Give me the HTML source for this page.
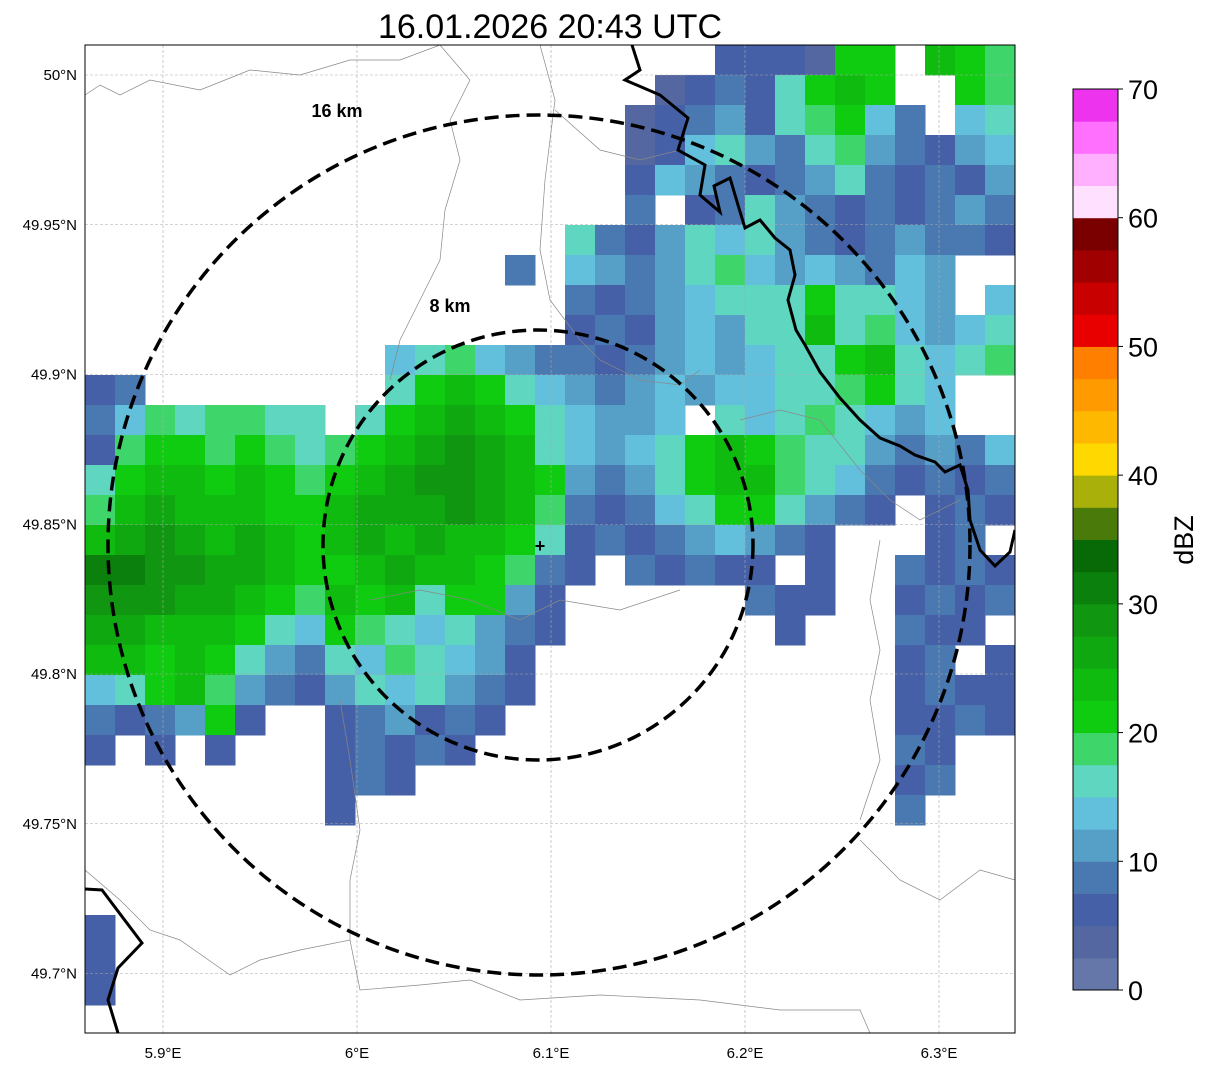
<!DOCTYPE html>
<html><head><meta charset="utf-8"><style>
body{margin:0;background:#fff;}
svg{display:block;font-family:"Liberation Sans",sans-serif;}
</style></head><body>
<svg id="chart" width="1207" height="1069" viewBox="0 0 1207 1069">
<text x="550" y="38" font-size="34" text-anchor="middle">16.01.2026 20:43 UTC</text>
<defs><clipPath id="mapclip"><rect x="85" y="45" width="930" height="988"/></clipPath></defs>
<g id="map" clip-path="url(#mapclip)">
<g id="cells"></g>
<g id="grid"></g>
<g fill="none" stroke="#888" stroke-width="0.7">
<path d="M85,95 L100,85 L120,95 L150,80 L200,90 L250,70 L300,75 L350,60 L400,60 L440,45"/>
<path d="M440,45 L470,80 L450,120 L460,160 L445,210 L440,260 L420,300 L400,340 L390,380"/>
<path d="M540,45 L555,100 L545,180 L540,250 L550,300 L580,340 L600,360 L640,380 L680,385 L700,370"/>
<path d="M555,110 L600,150 L640,160 L680,150"/>
<path d="M85,870 L120,900 L150,930 L180,940 L230,975 L260,960 L300,950 L350,940 L360,990 L420,985 L470,980 L520,1000 L600,995 L700,1000 L780,1010 L860,1010 L870,1033"/>
<path d="M350,940 L350,880 L360,830 L350,760 L340,700"/>
<path d="M740,420 L780,410 L820,420 L860,470 L890,500 L920,520 L960,500"/>
<path d="M860,840 L900,880 L940,900 L980,870 L1015,880"/>
<path d="M880,540 L870,600 L880,650 L870,700 L880,760 L860,820"/>
<path d="M370,600 L420,590 L470,600 L520,620 L560,600 L620,610 L680,590"/>
</g>
<g fill="none" stroke="#000" stroke-width="3">
<path d="M632,45 L640,70 L625,80 L660,95 L688,118 L678,150 L705,165 L700,195 L720,212 L714,186 L730,178 L738,205 L745,228 L760,220 L775,238 L790,250 L795,275 L788,300 L796,330 L805,345 L820,372 L840,398 L860,420 L880,438 L900,446 L915,455 L935,462 L945,472 L960,465 L968,490 L970,520 L980,550 L995,566 L1010,552 L1015,530"/>
<path d="M85,889 L102,890 L142,943 L118,968 L108,1000 L118,1033"/>
</g>
<g fill="none" stroke="#000" stroke-width="3.5" stroke-dasharray="14,7">
<ellipse cx="539" cy="545" rx="431" ry="430"/>
<ellipse cx="538" cy="545" rx="215" ry="215"/>
</g>
<text x="337" y="117" font-size="18" font-weight="bold" text-anchor="middle">16 km</text>
<text x="450" y="312" font-size="18" font-weight="bold" text-anchor="middle">8 km</text>
<text x="540" y="552" font-size="18" font-weight="bold" text-anchor="middle">+</text>
</g>
<rect x="85" y="45" width="930" height="988" fill="none" stroke="#000" stroke-width="1"/>
<g id="ticks" font-size="15"></g>
<g id="cbar"></g>
<text x="1193" y="540" font-size="27" text-anchor="middle" transform="rotate(-90 1193 540)">dBZ</text>
</svg>
<script>
const NS="http://www.w3.org/2000/svg";
const colors=["#6477a8","#5567a0","#4560a6","#4a78b0","#56a0c8","#62c0dc","#5fd6c0","#3ed66a","#10cc10","#10bb10","#10a810","#109610","#0c800c","#076a07","#4a7a0a","#aab00a","#ffd800","#ffb800","#ff9a00","#ff7f00","#e80000","#c80000","#a00000","#7a0000","#ffe0ff","#ffb0ff","#ff70ff","#ee33ee"];
const cbTicks=[0,10,20,30,40,50,60,70];
const lonTicks=[5.9,6.0,6.1,6.2,6.3];
const lonLabels=["5.9°E","6°E","6.1°E","6.2°E","6.3°E"];
const latTicks=[50.0,49.95,49.9,49.85,49.8,49.75,49.7];
const latLabels=["50°N","49.95°N","49.9°N","49.85°N","49.8°N","49.75°N","49.7°N"];
const gridRows=[
".....................222188.987",
"...................12326898..87",
"..................1234267853.56",
"..................1256436743245",
"..................2543234632324",
"..................3.23643232343",
"................632465643234332",
"..............3.5434675454354..",
"................3234566686654.5",
"................232454669675456",
"..........567543323454566896567",
"23........6898654345455667865..",
"35767766.689a9865445.65676545..",
"27887876789aba96545689876643435",
"6899898789abba98434689976532323",
"79a999889aaaba9732356886432.232",
"9aba9a989a9a9986232345432...23.",
"ccbbaa9889a998732.32322.2..3232",
"bbbaa98798968842......322..2323",
"aa99986587656432.......2...322.",
"998986436576542............23.2",
"568974324656432............2322",
"323482..234232.............2232",
"2.2.2...23232..............32..",
"........232................23..",
"........2..................3...",
"...............................",
"...............................",
"...............................",
"2..............................",
"2..............................",
"2..............................",
"..............................."
];
const x=lon=>163+(lon-5.9)*1940;
const y=lat=>75+(50.0-lat)*2995;
const cellLon=30/1940, cellLat=30/2995, lon0=5.9-78/1940, lat0=50.0+30/2995;
const cx=i=>x(lon0+i*cellLon), cy=j=>y(lat0-j*cellLat);
const cells=document.getElementById('cells');
gridRows.forEach((row,j)=>{for(let i=0;i<row.length;i++){const ch=row[i];if(ch==='.')continue;
const v=parseInt(ch,16);
const r=document.createElementNS(NS,'rect');


r.setAttribute('x',cx(i));r.setAttribute('y',cy(j));r.setAttribute('width',30.5);r.setAttribute('height',30.5);
r.setAttribute('fill',colors[v]);cells.appendChild(r);}});
const grid=document.getElementById('grid'),ticks=document.getElementById('ticks');
lonTicks.forEach((l,k)=>{const X=x(l);
const g=document.createElementNS(NS,'line');


g.setAttribute('x1',X);g.setAttribute('x2',X);g.setAttribute('y1',45);g.setAttribute('y2',1033);g.setAttribute('stroke','#aaa');g.setAttribute('stroke-width','0.6');g.setAttribute('stroke-dasharray','3,2');grid.appendChild(g);
const t=document.createElementNS(NS,'text');


t.setAttribute('x',X);t.setAttribute('y',1058);t.setAttribute('text-anchor','middle');t.textContent=lonLabels[k];ticks.appendChild(t);});
latTicks.forEach((l,k)=>{const Y=y(l);
const g=document.createElementNS(NS,'line');


g.setAttribute('x1',85);g.setAttribute('x2',1015);g.setAttribute('y1',Y);g.setAttribute('y2',Y);g.setAttribute('stroke','#aaa');g.setAttribute('stroke-width','0.6');g.setAttribute('stroke-dasharray','3,2');grid.appendChild(g);
const t=document.createElementNS(NS,'text');


t.setAttribute('x',77);t.setAttribute('y',Y+5);t.setAttribute('text-anchor','end');t.textContent=latLabels[k];ticks.appendChild(t);});
const cb=document.getElementById('cbar');const cbTop=89,cbBot=990,cbX=1073,cbW=45;
const cbY=v=>cbBot-(v/70)*(cbBot-cbTop);
colors.forEach((c,k)=>{const r=document.createElementNS(NS,'rect');


r.setAttribute('x',cbX);r.setAttribute('y',cbY((k+1)*2.5));r.setAttribute('width',cbW);r.setAttribute('height',cbY(k*2.5)-cbY((k+1)*2.5)+0.5);r.setAttribute('fill',c);cb.appendChild(r);});
const fr=document.createElementNS(NS,'rect');


fr.setAttribute('x',cbX);fr.setAttribute('y',cbTop);fr.setAttribute('width',cbW);fr.setAttribute('height',cbBot-cbTop);fr.setAttribute('fill','none');fr.setAttribute('stroke','#000');cb.appendChild(fr);
cbTicks.forEach(v=>{const Y=cbY(v);
const l=document.createElementNS(NS,'line');


l.setAttribute('x1',cbX+cbW);l.setAttribute('x2',cbX+cbW+5);l.setAttribute('y1',Y);l.setAttribute('y2',Y);l.setAttribute('stroke','#000');cb.appendChild(l);
const t=document.createElementNS(NS,'text');


t.setAttribute('x',cbX+cbW+10);t.setAttribute('y',Y+10);t.setAttribute('font-size','27');t.textContent=v;cb.appendChild(t);});
</script>
</body></html>
